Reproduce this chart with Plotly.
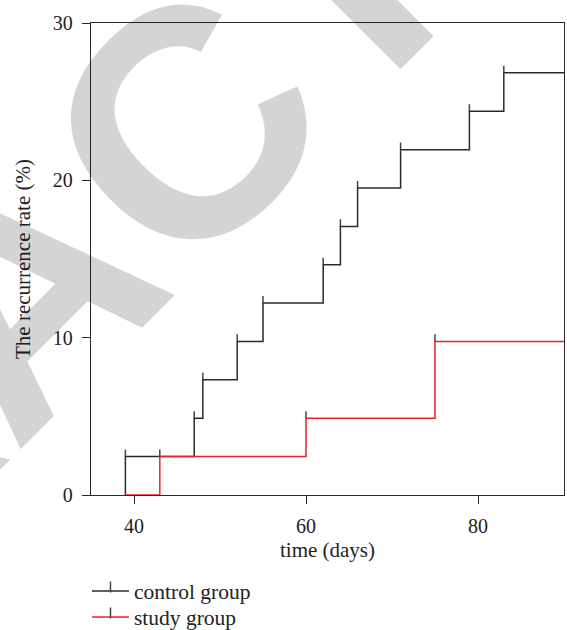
import plotly.graph_objects as go

# ---- data ----
start_day = 39
end_day = 90
control_event_days = [39, 47, 48, 52, 55, 62, 64, 66, 71, 79, 83]
control_event_rates = [2.44, 4.88, 7.32, 9.76, 12.20, 14.63, 17.07, 19.51, 21.95, 24.39, 26.83]
study_event_days = [43, 60, 75]
study_event_rates = [2.44, 4.88, 9.76]
x_ticks = [40, 60, 80]
y_ticks = [0, 10, 20, 30]
series_names = ["control group", "study group"]

BLACK = "#2a2a2a"
RED = "#ec2229"
TICKC = "#444444"
SERIF = "Liberation Serif"
tick_h = 0.45


def step_xy(days, rates):
    xs = [start_day] + list(days) + [end_day]
    ys = [0] + list(rates) + [rates[-1]]
    return xs, ys


def tick_xy(days, rates):
    xs, ys = [], []
    for d, r in zip(days, rates):
        xs += [d, d, None]
        ys += [r, r + tick_h, None]
    return xs, ys


fig = go.Figure()
legend_ids = ["legend", "legend2"]
for name, days, rates, col, lg in [
    (series_names[0], control_event_days, control_event_rates, BLACK, legend_ids[0]),
    (series_names[1], study_event_days, study_event_rates, RED, legend_ids[1]),
]:
    sx, sy = step_xy(days, rates)
    fig.add_trace(go.Scatter(x=sx, y=sy, mode="lines", line=dict(color=col, width=1.5, shape="hv"),
                             showlegend=False, cliponaxis=False, hoverinfo="skip"))
    tx, ty = tick_xy(days, rates)
    fig.add_trace(go.Scatter(x=tx, y=ty, mode="lines", line=dict(color=TICKC, width=1.5),
                             showlegend=False, cliponaxis=False, hoverinfo="skip"))
    fig.add_trace(go.Scatter(x=[None], y=[None], mode="lines+markers", name=name, legend=lg,
                             line=dict(color=col, width=1.5),
                             marker=dict(symbol="line-ns", size=8, angle=0, standoff=4,
                                         line=dict(color=TICKC, width=1.5))))

axis_common = dict(showgrid=False, zeroline=False, showline=True, linecolor=BLACK, linewidth=1.3,
                   mirror=True, ticks="outside", ticklen=8, tickwidth=1.3, tickcolor=BLACK,
                   tickfont=dict(family=SERIF, size=20, color="#222"), layer="below traces",
                   automargin=False)

fig.update_xaxes(range=[35, 90], tickvals=x_ticks, ticklabelstandoff=5,
                 title=dict(text="time (days)", font=dict(family=SERIF, size=21, color="#222"), standoff=6),
                 **axis_common)
fig.update_yaxes(range=[0, 30], tickvals=y_ticks, ticklabelstandoff=5,
                 title=dict(text="The recurrence rate (%)", font=dict(family=SERIF, size=21, color="#222"), standoff=16),
                 **axis_common)

# watermark
fig.add_annotation(text="<b>RETRACTED</b>", xref="paper", yref="paper", x=-0.1543, y=0.430,
                   xanchor="center", yanchor="middle",
                   showarrow=False, textangle=-45,
                   font=dict(family="Liberation Sans", size=325, weight="bold", color="rgba(0,0,0,0.17)"))

legend_common = dict(xanchor="left", yanchor="middle", bgcolor="rgba(0,0,0,0)", itemwidth=37,
                     font=dict(family=SERIF, size=21.5, color="#222"))
fig.update_layout(
    width=567, height=630,
    margin=dict(l=91, r=3, t=23, b=135, autoexpand=False),
    plot_bgcolor="white", paper_bgcolor="white",
    legend=dict(x=-0.0085, y=-0.2034, **legend_common),
    legend2=dict(x=-0.0085, y=-0.2585, **legend_common),
    showlegend=True,
)

fig.write_html("out.html", config={"displayModeBar": False},
               post_script="document.body.style.margin='0';document.body.style.padding='0';")
